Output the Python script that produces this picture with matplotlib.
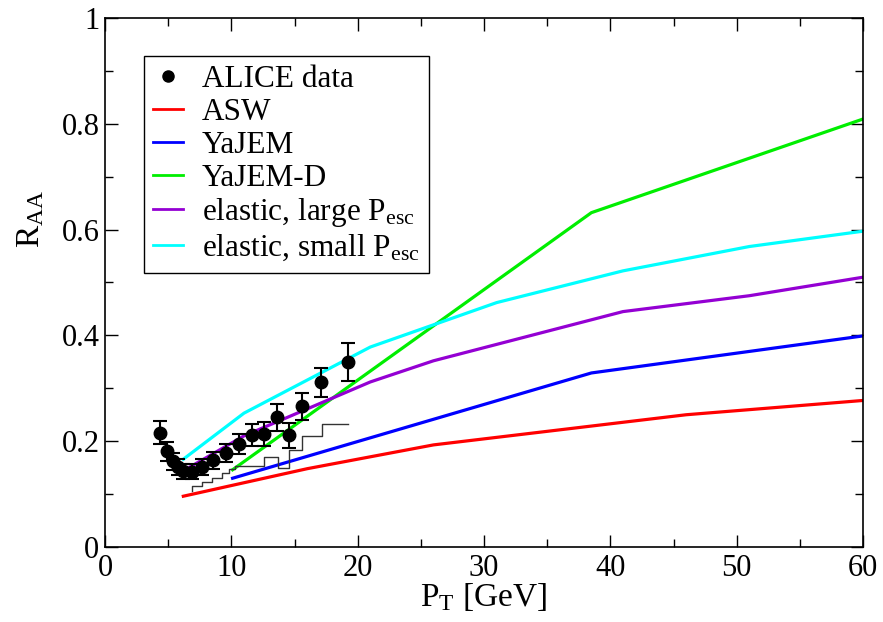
import matplotlib
matplotlib.use("Agg")
import matplotlib.pyplot as plt
from matplotlib.lines import Line2D
from matplotlib.ticker import MultipleLocator

plt.rcParams['font.family'] = ['Liberation Serif', 'DejaVu Serif']
plt.rcParams['mathtext.fontset'] = 'custom'
plt.rcParams['mathtext.rm'] = 'Liberation Serif'
plt.rcParams['mathtext.it'] = 'Liberation Serif:italic'

# ALICE data
alice_pt = [4.35, 4.9, 5.4, 5.8, 6.2, 6.9, 7.7, 8.55, 9.6, 10.6, 11.6, 12.6, 13.6, 14.6, 15.6, 17.1, 19.2]
alice_raa = [0.216, 0.181, 0.162, 0.151, 0.143, 0.142, 0.151, 0.164, 0.177, 0.194, 0.212, 0.213, 0.245, 0.211, 0.266, 0.311, 0.349]
alice_err = [0.022, 0.018, 0.016, 0.015, 0.014, 0.014, 0.015, 0.016, 0.017, 0.019, 0.021, 0.023, 0.026, 0.024, 0.026, 0.028, 0.036]

# systematic/step curve
step_pt = [6.9, 6.9, 7.7, 8.5, 9.3, 9.8, 10.3, 12.6, 13.7, 14.6, 15.6, 17.2, 19.2]
step_raa = [0.106, 0.115, 0.123, 0.130, 0.139, 0.147, 0.153, 0.170, 0.149, 0.183, 0.210, 0.232, 0.232]

# model curves
asw_pt = [6.2, 16, 26, 46, 60]
asw_raa = [0.096, 0.148, 0.193, 0.250, 0.277]

yajem_pt = [10.1, 38.5, 60]
yajem_raa = [0.130, 0.329, 0.399]

yajemd_pt = [10.1, 38.5, 60]
yajemd_raa = [0.146, 0.632, 0.809]

large_pt = [6.2, 11, 21, 26, 41, 51, 60]
large_raa = [0.144, 0.210, 0.312, 0.352, 0.445, 0.475, 0.510]

small_pt = [6.2, 11, 21, 31, 41, 51, 60]
small_raa = [0.166, 0.253, 0.378, 0.462, 0.522, 0.568, 0.597]

fig = plt.figure(figsize=(8.83, 6.22), dpi=100)
ax = fig.add_axes([105/883, 75/622, 758/883, 529/622])

lw = 2.3
ax.plot(asw_pt, asw_raa, color='#ff0000', lw=lw)
ax.plot(yajem_pt, yajem_raa, color='#0000ff', lw=lw)
ax.plot(yajemd_pt, yajemd_raa, color='#00ee00', lw=lw)
ax.plot(large_pt, large_raa, color='#9400d3', lw=lw)
ax.plot(small_pt, small_raa, color='#00ffff', lw=lw)

ax.step(step_pt, step_raa, where='post', color='#333333', lw=1.0)

ax.errorbar(alice_pt, alice_raa, yerr=alice_err, fmt='o', color='black',
            ms=9, capsize=5, elinewidth=1.5, capthick=1.5, zorder=5)

ax.set_xlim(0, 60)
ax.set_ylim(0, 1)
ax.xaxis.set_major_locator(MultipleLocator(10))
ax.xaxis.set_minor_locator(MultipleLocator(5))
ax.yaxis.set_major_locator(MultipleLocator(0.2))
ax.yaxis.set_minor_locator(MultipleLocator(0.1))
ax.yaxis.set_major_formatter(matplotlib.ticker.FuncFormatter(lambda v, p: ('%g' % round(v, 2))))
ax.tick_params(which='both', direction='in', top=True, right=True, labelsize=22, width=1.0)
ax.tick_params(which='major', length=9)
ax.tick_params(which='minor', length=6)
ax.tick_params(axis='y', pad=4)
ax.tick_params(axis='x', pad=5)
for s in ax.spines.values():
    s.set_linewidth(1.2)

ax.set_xlabel('P$_\\mathrm{T}$ [GeV]', fontsize=24)
ax.set_ylabel('R$_\\mathrm{AA}$', fontsize=24)
ax.xaxis.set_label_coords(0.5, -0.065)
ax.yaxis.set_label_coords(-0.078, 0.62)

handles = [
    Line2D([], [], marker='o', ls='none', color='black', ms=8),
    Line2D([], [], color='#ff0000', lw=2),
    Line2D([], [], color='#0000ff', lw=2),
    Line2D([], [], color='#00ee00', lw=2),
    Line2D([], [], color='#9400d3', lw=2),
    Line2D([], [], color='#00ffff', lw=2),
]
labels = ['ALICE data', 'ASW', 'YaJEM', 'YaJEM-D',
          'elastic, large P$_\\mathrm{esc}$', 'elastic, small P$_\\mathrm{esc}$']
leg = ax.legend(handles, labels, loc='upper left', bbox_to_anchor=(144/883, 1 - 56/622),
                bbox_transform=fig.transFigure, fontsize=22.5, frameon=True, fancybox=False,
                edgecolor='black', framealpha=1, handlelength=0.95, handletextpad=0.6,
                labelspacing=0.12, borderpad=0.3, borderaxespad=0)
leg.get_frame().set_linewidth(1.0)

fig.savefig('out.png', dpi=100)
